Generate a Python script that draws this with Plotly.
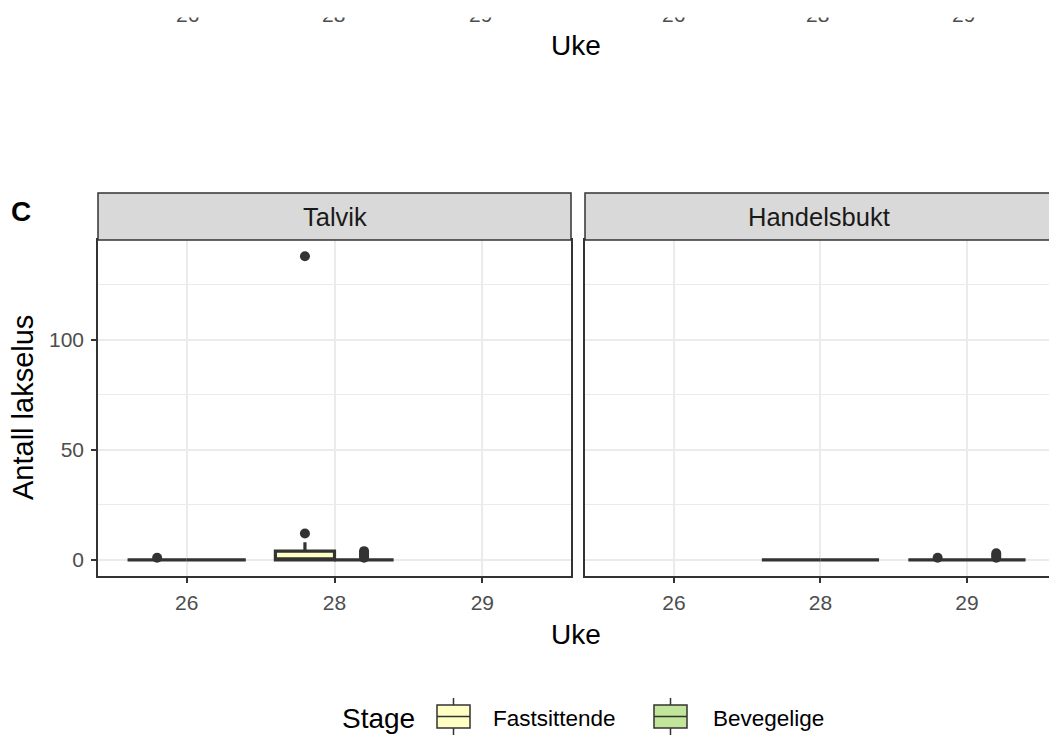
import plotly.graph_objects as go

# ---------------- data ----------------
weeks = ["26", "28", "29"]
stages = ["Fastsittende", "Bevegelige"]
stage_colors = ["#FFFFC4", "#C2E699"]

# Talvik: counts per fish, by week and stage
talvik_w26_fast = [0, 0, 0, 0, 0, 0, 0, 0, 0, 0, 1]
talvik_w26_bev = [0, 0, 0, 0, 0, 0, 0, 0, 0, 0, 0]
talvik_w28_fast = [0, 0, 0, 0, 0, 0, 0, 0, 3, 4, 4, 8, 12, 138]
talvik_w28_bev = [0, 0, 0, 0, 0, 0, 0, 0, 0, 0, 0, 0, 0, 0, 0, 0, 1, 2, 3, 4]

# Handelsbukt
handel_w28_fast = [0, 0, 0, 0, 0, 0, 0, 0, 0, 0]
handel_w28_bev = [0, 0, 0, 0, 0, 0, 0, 0, 0, 0]
handel_w29_fast = [0, 0, 0, 0, 0, 0, 0, 0, 0, 0, 1]
handel_w29_bev = [0, 0, 0, 0, 0, 0, 0, 0, 0, 0, 0, 0, 1, 2, 3]

facets = ["Talvik", "Handelsbukt"]
y_ticks = [0, 50, 100]
y_minor = [25, 75, 125]

panel_data = {
    "Talvik": {
        "Fastsittende": {"26": talvik_w26_fast, "28": talvik_w28_fast},
        "Bevegelige": {"26": talvik_w26_bev, "28": talvik_w28_bev},
    },
    "Handelsbukt": {
        "Fastsittende": {"28": handel_w28_fast, "29": handel_w29_fast},
        "Bevegelige": {"28": handel_w28_bev, "29": handel_w29_bev},
    },
}

# ---------------- geometry (pixels -> paper) ----------------
W, H = 1049, 738
ML, MB, MT, MR = 98, 162, 0, 0
PW, PH = W - ML - MR, H - MB - MT


def px(x):
    return (x - ML) / PW


def py(y):
    return (H - MB - y) / PH


FONT = "Liberation Sans, Arial, sans-serif"
DARK = "#333333"
GRID = "#EBEBEB"
TICKC = "#4D4D4D"
LW = 3.2

fig = go.Figure()

axes_ids = [("x", "y"), ("x2", "y2")]
for fi, facet in enumerate(facets):
    xa, ya = axes_ids[fi]
    for si, stage in enumerate(stages):
        xs, ys = [], []
        for wk in weeks:
            vals = panel_data[facet][stage].get(wk, [])
            xs += [wk] * len(vals)
            ys += vals
        fig.add_trace(go.Box(
            x=xs, y=ys, name=stage, legendgroup=stage, offsetgroup=stage,
            showlegend=False,
            xaxis=xa, yaxis=ya,
            fillcolor=stage_colors[si],
            line=dict(color=DARK, width=LW),
            marker=dict(color=DARK, size=10, line=dict(width=0)),
            boxpoints="outliers", jitter=0, pointpos=0,
            whiskerwidth=0, quartilemethod="inclusive",
        ))

y_top_plot = 240
y_bot_plot = 576
strip_top = 193
left_dom = [0, px(571)]
right_dom = [px(585), 1]
ydom = [py(y_bot_plot), py(y_top_plot)]
yrange = [-7.3, 145.4]

xcommon = dict(
    type="category", categoryorder="array", categoryarray=weeks,
    range=[-0.6, 2.6], showgrid=True, gridcolor=GRID, gridwidth=1.5,
    showline=True, linecolor=DARK, linewidth=1.5, mirror=True,
    ticks="outside", ticklen=5, tickwidth=1.5, tickcolor=DARK,
    tickfont=dict(family=FONT, size=21, color=TICKC),
    ticklabelstandoff=2,
    zeroline=False,
)
fig.update_layout(
    xaxis=dict(domain=left_dom, anchor="y", **xcommon),
    xaxis2=dict(domain=right_dom, anchor="y2",
                **{**xcommon, "range": [-0.607, 2.56]}),
    yaxis=dict(
        domain=ydom, anchor="x", range=yrange,
        tickvals=y_ticks, showgrid=True, gridcolor=GRID, gridwidth=1.5,
        minor=dict(tickmode="array", tickvals=y_minor, showgrid=True,
                   gridcolor=GRID, gridwidth=1, ticklen=0),
        showline=True, linecolor=DARK, linewidth=1.5, mirror=True,
        ticks="outside", ticklen=5, tickwidth=1.5, tickcolor=DARK,
        tickfont=dict(family=FONT, size=21, color=TICKC),
        ticklabelstandoff=3,
        zeroline=False,
    ),
    yaxis2=dict(
        domain=ydom, anchor="x2", range=yrange,
        tickvals=y_ticks, showgrid=True, gridcolor=GRID, gridwidth=1.5,
        minor=dict(tickmode="array", tickvals=y_minor, showgrid=True,
                   gridcolor=GRID, gridwidth=1, ticklen=0),
        showline=True, linecolor=DARK, linewidth=1.5, mirror=False,
        ticks="", showticklabels=False, zeroline=False,
    ),
    boxmode="group", boxgap=0.2, boxgroupgap=0,
    width=W, height=H,
    margin=dict(l=ML, r=MR, t=MT, b=MB),
    paper_bgcolor="white", plot_bgcolor="white",
    font=dict(family=FONT, color="#000000"),
    showlegend=False,
)

shapes = []
annotations = []

# strips
for fi, facet in enumerate(facets):
    dom = left_dom if fi == 0 else right_dom
    x1 = dom[1] if fi == 0 else 1.02
    shapes.append(dict(type="rect", xref="paper", yref="paper",
                       x0=dom[0], x1=x1, y0=py(y_top_plot), y1=py(strip_top),
                       fillcolor="#D9D9D9", line=dict(color=DARK, width=1.5),
                       layer="above"))
    cx = (dom[0] + dom[1]) / 2 if fi == 0 else px(819)
    annotations.append(dict(text=facet, xref="paper", yref="paper",
                            x=cx, y=py((y_top_plot + strip_top) / 2),
                            showarrow=False, xanchor="center", yanchor="middle",
                            font=dict(family=FONT, size=25.5, color="#1A1A1A")))

# axis titles and panel tag
annotations.append(dict(text="Uke", xref="paper", yref="paper", x=px(576), y=py(634),
                        showarrow=False, xanchor="center", yanchor="middle",
                        font=dict(family=FONT, size=28, color="#000000")))
annotations.append(dict(text="Antall lakselus", xref="paper", yref="paper",
                        x=px(23), y=py(408), textangle=-90,
                        showarrow=False, xanchor="center", yanchor="middle",
                        font=dict(family=FONT, size=29, color="#000000")))
annotations.append(dict(text="<b>C</b>", xref="paper", yref="paper", x=px(21), y=py(211),
                        showarrow=False, xanchor="center", yanchor="middle",
                        font=dict(family=FONT, size=28, color="#000000")))

# legend (drawn by hand to mimic the ggplot boxplot keys)
annotations.append(dict(text="Stage", xref="paper", yref="paper", x=px(340), y=py(718),
                        showarrow=False, xanchor="left", yanchor="middle",
                        font=dict(family=FONT, size=28, color="#000000")))
key_left = [437, 654]
text_left = [491, 711]
for si, stage in enumerate(stages):
    kx0, kx1 = key_left[si], key_left[si] + 33
    kmid = (kx0 + kx1) / 2
    shapes.append(dict(type="rect", xref="paper", yref="paper",
                       x0=px(kx0), x1=px(kx1), y0=py(728), y1=py(705),
                       fillcolor=stage_colors[si], line=dict(color=DARK, width=1.5)))
    shapes.append(dict(type="line", xref="paper", yref="paper",
                       x0=px(kx0), x1=px(kx1), y0=py(716.5), y1=py(716.5),
                       line=dict(color=DARK, width=1.5)))
    shapes.append(dict(type="line", xref="paper", yref="paper",
                       x0=px(kmid), x1=px(kmid), y0=py(698), y1=py(705),
                       line=dict(color=DARK, width=1.5)))
    shapes.append(dict(type="line", xref="paper", yref="paper",
                       x0=px(kmid), x1=px(kmid), y0=py(728), y1=py(735),
                       line=dict(color=DARK, width=1.5)))
    annotations.append(dict(text=stage, xref="paper", yref="paper",
                            x=px(text_left[si]), y=py(718),
                            showarrow=False, xanchor="left", yanchor="middle",
                            font=dict(family=FONT, size=22.5, color="#000000")))

# remnants of the panel above (cut off at the top)
top_label_x = [187, 333, 480, 673, 817, 963]
for i, xx in enumerate(top_label_x):
    annotations.append(dict(text=weeks[i % 3], xref="paper", yref="paper",
                            x=px(xx), y=py(14), showarrow=False,
                            xanchor="center", yanchor="middle",
                            font=dict(family=FONT, size=21, color=TICKC)))
annotations.append(dict(text="Uke", xref="paper", yref="paper", x=px(576), y=py(45),
                        showarrow=False, xanchor="center", yanchor="middle",
                        font=dict(family=FONT, size=28, color="#000000")))
# white cover hiding the top of the cut-off labels
annotations.append(dict(text=" ", xref="paper", yref="paper", x=0.5, y=py(0),
                        xanchor="center", yanchor="top", showarrow=False,
                        width=1100, height=14, bgcolor="white",
                        font=dict(size=4)))

fig.update_layout(shapes=shapes, annotations=annotations)
fig.write_html("out.html", config={"displayModeBar": False},
               post_script="document.body.style.margin='0px';")
